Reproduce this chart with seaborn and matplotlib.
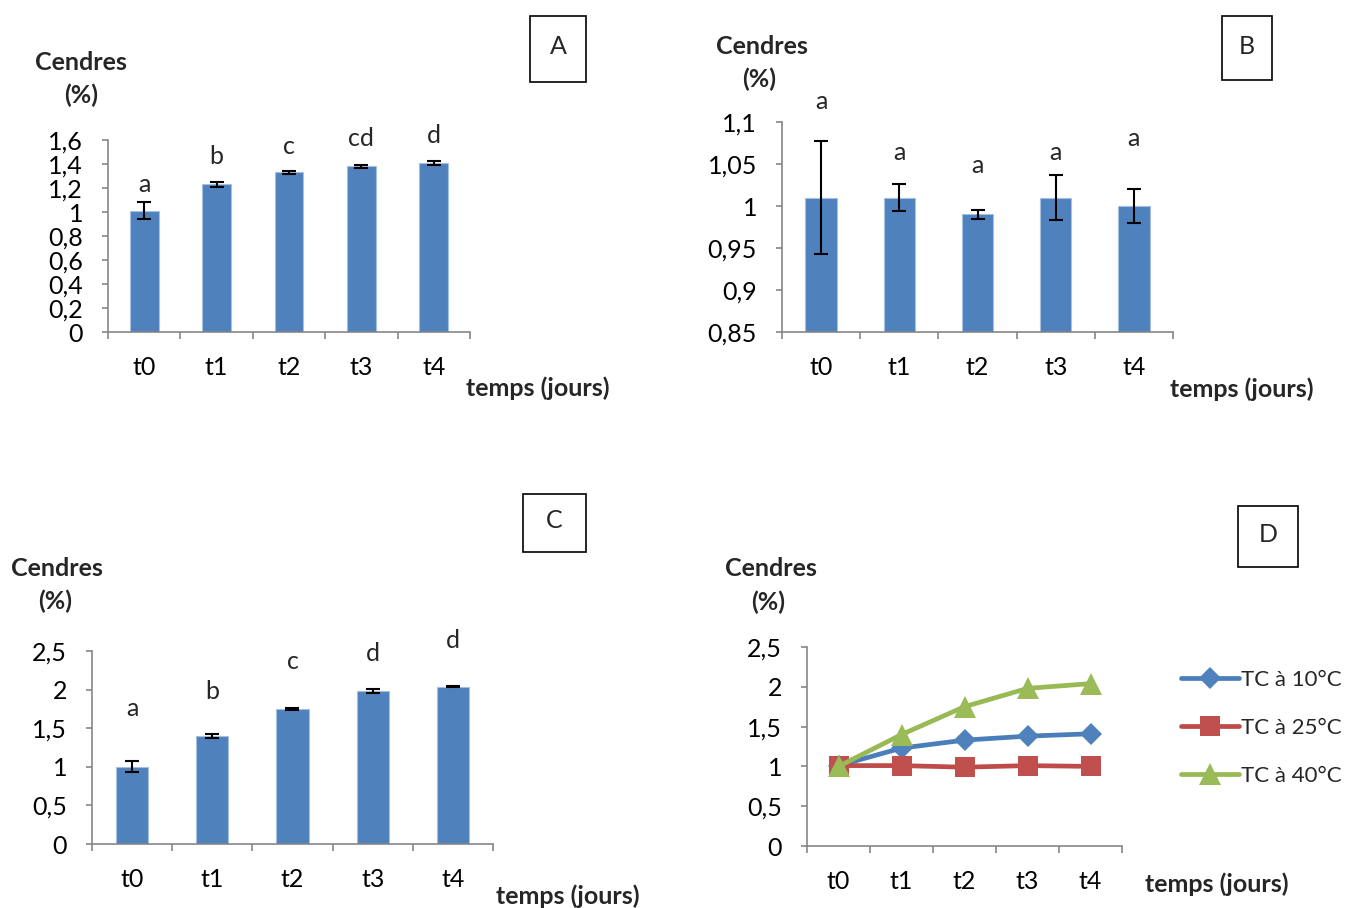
import numpy as np
import pandas as pd
import matplotlib
matplotlib.use("Agg")
import matplotlib.pyplot as plt
from matplotlib.ticker import FuncFormatter
from matplotlib.patches import Rectangle
import seaborn as sns

# ---------------- data ----------------
temps = ["t0", "t1", "t2", "t3", "t4"]

cendres_A = [1.01, 1.23, 1.33, 1.38, 1.41]
err_A = [0.07, 0.02, 0.012, 0.012, 0.016]
lettres_A = ["a", "b", "c", "cd", "d"]
lettres_A_y = [1.23, 1.46, 1.55, 1.61, 1.64]

cendres_B = [1.01, 1.01, 0.99, 1.01, 1.00]
err_B = [0.067, 0.016, 0.005, 0.027, 0.02]
lettres_B = ["a", "a", "a", "a", "a"]
lettres_B_y = [1.124, 1.064, 1.048, 1.064, 1.080]

cendres_C = [1.00, 1.40, 1.75, 1.98, 2.04]
err_C = [0.07, 0.025, 0.018, 0.03, 0.012]
lettres_C = ["a", "b", "c", "d", "d"]
lettres_C_y = [1.75, 1.98, 2.37, 2.47, 2.63]

serie_10 = [1.01, 1.23, 1.33, 1.38, 1.41]
serie_25 = [1.01, 1.01, 0.99, 1.01, 1.00]
serie_40 = [1.00, 1.40, 1.75, 1.98, 2.04]
noms_series = ["TC à 10°C", "TC à 25°C", "TC à 40°C"]

# ---------------- style ----------------
sns.set_style("white")
plt.rcParams["font.family"] = ["Lato", "DejaVu Sans"]
FS = 18
FS_LEG = 16
BAR = "#4F81BD"
GRAY = "#868686"
W, H = 1346, 908

fig = plt.figure(figsize=(W / 100, H / 100), dpi=100)


def fr(x, y):
    return x / W, 1 - y / H


def axes_px(l, r, t, b):
    return fig.add_axes([l / W, 1 - b / H, (r - l) / W, (b - t) / H])


def fmt(v, pos):
    return ("{:g}".format(round(v, 3))).replace(".", ",")


def style_axes(ax, yticks, ylim):
    for s in ["top", "right"]:
        ax.spines[s].set_visible(False)
    for s in ["left", "bottom"]:
        ax.spines[s].set_color(GRAY)
        ax.spines[s].set_linewidth(1.2)
    ax.set_ylim(*ylim)
    ax.set_yticks(yticks)
    ax.yaxis.set_major_formatter(FuncFormatter(fmt))
    ax.set_xlim(-0.5, 4.5)
    ax.set_xticks(np.arange(-0.5, 5.0, 1.0))
    ax.set_xticklabels([])
    ax.set_xticks(range(len(temps)), minor=True)
    ax.set_xticklabels(temps, minor=True)
    ax.tick_params(axis="y", which="major", left=True, length=4, width=1.2,
                   color=GRAY, pad=14, labelsize=FS, labelcolor="black")
    ax.tick_params(axis="x", which="major", bottom=True, length=5, width=1.2,
                   color=GRAY, direction="out")
    ax.tick_params(axis="x", which="minor", bottom=True, length=0, pad=17,
                   labelsize=FS, labelcolor="black")
    ax.set_xlabel("")
    ax.set_ylabel("")
    ax.grid(False)


def bar_panel(ax, vals, errs, letters, letters_y, yticks, ylim):
    sns.barplot(x=temps, y=vals, color=BAR, width=0.4, saturation=1,
                edgecolor="#A7BFDE", linewidth=0.8, ax=ax)
    ax.errorbar(range(len(temps)), vals, yerr=errs, fmt="none", ecolor="black",
                elinewidth=1.5, capsize=5, capthick=1.5, zorder=5)
    for i, (lt, ly) in enumerate(zip(letters, letters_y)):
        ax.text(i, ly, lt, ha="center", va="center", fontsize=FS, clip_on=False)
    style_axes(ax, yticks, ylim)


def label_box(x0, y0, x1, y1, txt):
    fig.patches.append(Rectangle(fr(x0, y1), (x1 - x0) / W, (y1 - y0) / H,
                                 transform=fig.transFigure, fill=False,
                                 edgecolor="black", linewidth=1.2))
    fig.text(*fr((x0 + x1) / 2, (y0 + y1) / 2 - 2), txt, ha="center",
             va="center", fontsize=FS)


def titles(cx, cy, px_, py_, tx, ty):
    fig.text(*fr(cx, cy), "Cendres", ha="center", va="center", fontsize=FS,
             fontweight="bold")
    fig.text(*fr(px_, py_), "(%)", ha="center", va="center", fontsize=FS,
             fontweight="bold")
    fig.text(*fr(tx, ty), "temps (jours)", ha="center", va="center",
             fontsize=FS, fontweight="bold")


# ---------------- panel A ----------------
axA = axes_px(108, 470, 140, 332)
bar_panel(axA, cendres_A, err_A, lettres_A, lettres_A_y,
          np.arange(0, 1.61, 0.2), (0, 1.6))
titles(81, 62, 81, 95, 538, 388)
label_box(530, 16, 586, 82, "A")

# ---------------- panel B ----------------
axB = axes_px(782, 1173, 122, 332)
bar_panel(axB, cendres_B, err_B, lettres_B, lettres_B_y,
          np.arange(0.85, 1.1001, 0.05), (0.85, 1.1))
titles(762, 46, 759, 79, 1242, 389)
label_box(1222, 16, 1272, 80, "B")

# ---------------- panel C ----------------
axC = axes_px(92, 493, 651, 844)
bar_panel(axC, cendres_C, err_C, lettres_C, lettres_C_y,
          np.arange(0, 2.51, 0.5), (0, 2.5))
titles(57, 568, 55, 601, 568, 896)
label_box(523, 494, 586, 552, "C")

# ---------------- panel D ----------------
axD = axes_px(807, 1122, 647, 846)
df = pd.DataFrame({
    "temps": temps * 3,
    "cendres": serie_10 + serie_25 + serie_40,
    "serie": [noms_series[0]] * 5 + [noms_series[1]] * 5 + [noms_series[2]] * 5,
})
df["pos"] = df["temps"].map({t: i for i, t in enumerate(temps)})
line_cols = ["#4A7EBB", "#BE4B48", "#98B954"]
mark_cols = ["#4F81BD", "#C0504D", "#9BBB59"]
sns.lineplot(data=df, x="pos", y="cendres", hue="serie", style="serie",
             markers=["D", "s", "^"], dashes=False, palette=line_cols,
             linewidth=3.4, markersize=12, markeredgewidth=0, ax=axD,
             legend=True)
sizes = [11, 14, 16]
for ln, mc, ms in zip(axD.lines[:3], mark_cols, sizes):
    ln.set_markerfacecolor(mc)
    ln.set_markeredgecolor(mc)
    ln.set_markersize(ms)
style_axes(axD, np.arange(0, 2.51, 0.5), (0, 2.5))
leg = axD.get_legend()
handles, labels = axD.get_legend_handles_labels()
leg.remove()
for h, mc, lc, ms in zip(handles, mark_cols, line_cols, sizes):
    h.set_color(lc)
    h.set_markerfacecolor(mc)
    h.set_markeredgecolor(mc)
    h.set_markersize(ms)
    h.set_linewidth(3.4)
fig.legend(handles, labels, loc="upper left", bbox_to_anchor=fr(1181, 670),
           frameon=False, fontsize=FS_LEG, handlelength=2.6, handletextpad=0.1,
           labelspacing=1.25, borderaxespad=0, borderpad=0)
titles(771, 569, 768, 602, 1217, 884)
label_box(1238, 506, 1298, 567, "D")

fig.savefig("out.png", dpi=100)
